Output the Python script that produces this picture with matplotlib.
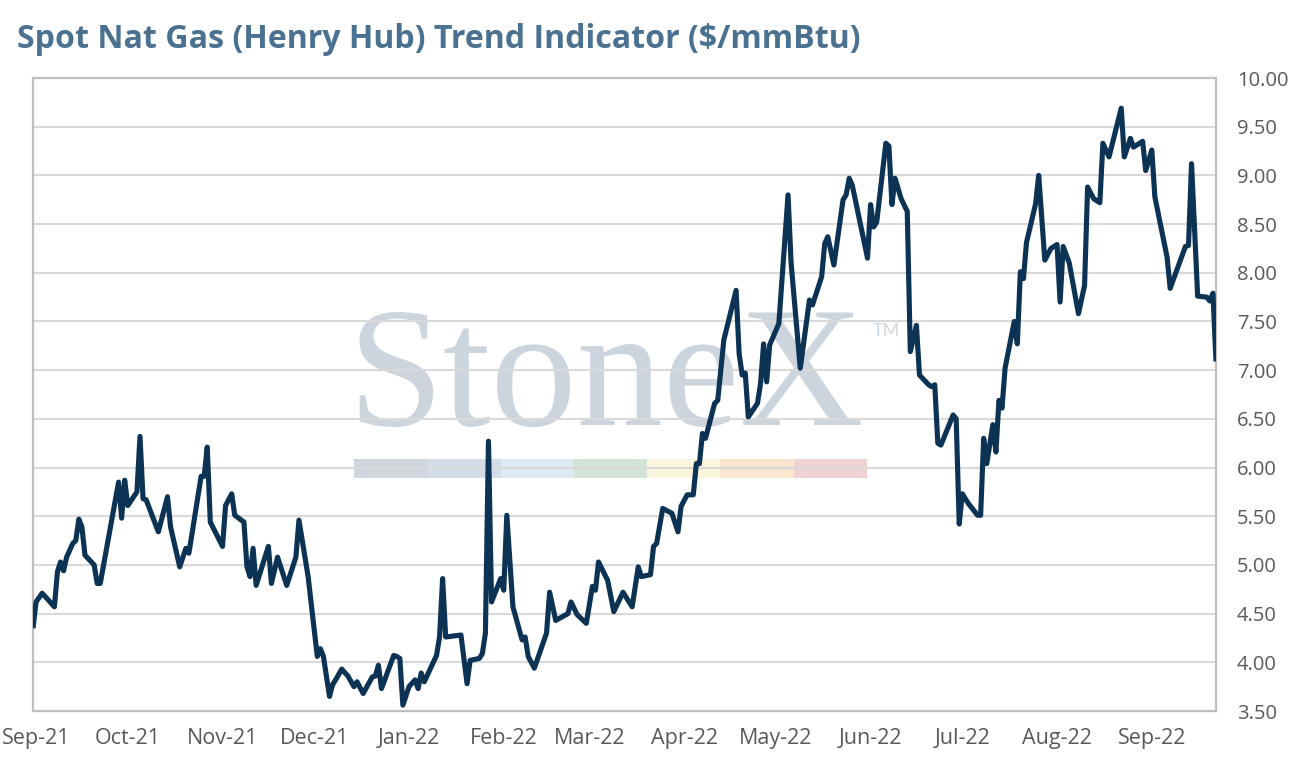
import matplotlib
matplotlib.use("Agg")
import matplotlib.pyplot as plt
import matplotlib.dates as mdates
from matplotlib.patches import Rectangle
import pandas as pd

dates = [
    "2021-08-31", "2021-09-01", "2021-09-03", "2021-09-07", "2021-09-08", "2021-09-09", "2021-09-10",
    "2021-09-11", "2021-09-13", "2021-09-14", "2021-09-15", "2021-09-16", "2021-09-17", "2021-09-20",
    "2021-09-21", "2021-09-22", "2021-09-28", "2021-09-29", "2021-09-30", "2021-10-01", "2021-10-04",
    "2021-10-05", "2021-10-06", "2021-10-07", "2021-10-11", "2021-10-14", "2021-10-15", "2021-10-18",
    "2021-10-20", "2021-10-21", "2021-10-25", "2021-10-26", "2021-10-27", "2021-10-28", "2021-11-01",
    "2021-11-02", "2021-11-04", "2021-11-05", "2021-11-08", "2021-11-09", "2021-11-10", "2021-11-11",
    "2021-11-12", "2021-11-16", "2021-11-17", "2021-11-19", "2021-11-22", "2021-11-25", "2021-11-26",
    "2021-11-29", "2021-12-02", "2021-12-03", "2021-12-04", "2021-12-06", "2021-12-07", "2021-12-08",
    "2021-12-10", "2021-12-12", "2021-12-14", "2021-12-15", "2021-12-17", "2021-12-20", "2021-12-21",
    "2021-12-22", "2021-12-23", "2021-12-27", "2021-12-28", "2021-12-29", "2021-12-30", "2022-01-01",
    "2022-01-03", "2022-01-04", "2022-01-05", "2022-01-06", "2022-01-10", "2022-01-11", "2022-01-12",
    "2022-01-13", "2022-01-18", "2022-01-20", "2022-01-21", "2022-01-24", "2022-01-25", "2022-01-26",
    "2022-01-27", "2022-01-28", "2022-01-30", "2022-01-31", "2022-02-01", "2022-02-02", "2022-02-04",
    "2022-02-07", "2022-02-08", "2022-02-09", "2022-02-11", "2022-02-15", "2022-02-16", "2022-02-18",
    "2022-02-22", "2022-02-23", "2022-02-25", "2022-02-28", "2022-03-02", "2022-03-03", "2022-03-04",
    "2022-03-07", "2022-03-09", "2022-03-12", "2022-03-15", "2022-03-17", "2022-03-18", "2022-03-21",
    "2022-03-22", "2022-03-23", "2022-03-25", "2022-03-28", "2022-03-30", "2022-03-31", "2022-04-02",
    "2022-04-04", "2022-04-05", "2022-04-06", "2022-04-07", "2022-04-08", "2022-04-11", "2022-04-12",
    "2022-04-14", "2022-04-18", "2022-04-19", "2022-04-20", "2022-04-21", "2022-04-22", "2022-04-25",
    "2022-04-26", "2022-04-27", "2022-04-28", "2022-04-29", "2022-05-02", "2022-05-05", "2022-05-06",
    "2022-05-09", "2022-05-12", "2022-05-13", "2022-05-16", "2022-05-17", "2022-05-18", "2022-05-20",
    "2022-05-23", "2022-05-24", "2022-05-25", "2022-05-26", "2022-05-31", "2022-06-01", "2022-06-02",
    "2022-06-03", "2022-06-06", "2022-06-07", "2022-06-08", "2022-06-09", "2022-06-11", "2022-06-13",
    "2022-06-14", "2022-06-16", "2022-06-17", "2022-06-20", "2022-06-21", "2022-06-22", "2022-06-23",
    "2022-06-24", "2022-06-28", "2022-06-29", "2022-06-30", "2022-07-01", "2022-07-03", "2022-07-06",
    "2022-07-07", "2022-07-08", "2022-07-09", "2022-07-11", "2022-07-12", "2022-07-13", "2022-07-14",
    "2022-07-15", "2022-07-18", "2022-07-19", "2022-07-20", "2022-07-21", "2022-07-22", "2022-07-25",
    "2022-07-26", "2022-07-28", "2022-07-30", "2022-08-01", "2022-08-02", "2022-08-03", "2022-08-05",
    "2022-08-08", "2022-08-10", "2022-08-11", "2022-08-13", "2022-08-15", "2022-08-16", "2022-08-18",
    "2022-08-22", "2022-08-23", "2022-08-25", "2022-08-26", "2022-08-29", "2022-08-30", "2022-09-01",
    "2022-09-02", "2022-09-06", "2022-09-07", "2022-09-12", "2022-09-13", "2022-09-14", "2022-09-16",
    "2022-09-19", "2022-09-20", "2022-09-21", "2022-09-22",
]

prices = [
    4.35, 4.62, 4.71, 4.57, 4.93, 5.03, 4.94,
    5.08, 5.22, 5.25, 5.47, 5.39, 5.10, 5.00,
    4.81, 4.81, 5.85, 5.48, 5.87, 5.61, 5.75,
    6.32, 5.68, 5.67, 5.34, 5.70, 5.39, 4.98,
    5.17, 5.12, 5.91, 5.91, 6.21, 5.44, 5.19,
    5.61, 5.73, 5.51, 5.44, 4.98, 4.88, 5.17,
    4.79, 5.19, 4.81, 5.08, 4.79, 5.08, 5.46,
    4.88, 4.06, 4.14, 4.06, 3.65, 3.77, 3.82,
    3.93, 3.86, 3.75, 3.80, 3.68, 3.85, 3.86,
    3.97, 3.73, 4.07, 4.06, 4.04, 3.56, 3.75,
    3.82, 3.73, 3.89, 3.80, 4.07, 4.26, 4.86,
    4.26, 4.28, 3.78, 4.02, 4.04, 4.09, 4.30,
    6.27, 4.62, 4.78, 4.86, 4.74, 5.51, 4.57,
    4.23, 4.26, 4.06, 3.94, 4.30, 4.72, 4.43,
    4.50, 4.62, 4.49, 4.40, 4.78, 4.74, 5.03,
    4.84, 4.52, 4.72, 4.57, 4.98, 4.88, 4.90,
    5.19, 5.22, 5.58, 5.53, 5.34, 5.60, 5.72,
    5.72, 6.04, 6.04, 6.35, 6.30, 6.66, 6.69,
    7.31, 7.82, 7.17, 6.95, 6.97, 6.52, 6.66,
    6.86, 7.27, 6.88, 7.26, 7.48, 8.80, 8.10,
    7.02, 7.72, 7.67, 7.96, 8.30, 8.37, 8.08,
    8.75, 8.80, 8.97, 8.90, 8.15, 8.70, 8.47,
    8.52, 9.33, 9.30, 8.70, 8.97, 8.76, 8.63,
    7.19, 7.46, 6.95, 6.85, 6.83, 6.85, 6.25,
    6.23, 6.54, 6.50, 5.42, 5.73, 5.63, 5.51,
    5.51, 6.30, 6.04, 6.44, 6.16, 6.69, 6.61,
    7.02, 7.50, 7.27, 8.01, 7.94, 8.31, 8.71,
    9.00, 8.13, 8.25, 8.29, 7.70, 8.27, 8.10,
    7.58, 7.87, 8.88, 8.76, 8.72, 9.33, 9.19,
    9.69, 9.19, 9.38, 9.29, 9.35, 9.05, 9.26,
    8.78, 8.16, 7.84, 8.27, 8.28, 9.12, 7.76,
    7.75, 7.71, 7.79, 7.09,
]

y_ticks = [3.5, 4.0, 4.5, 5.0, 5.5, 6.0, 6.5, 7.0, 7.5, 8.0, 8.5, 9.0, 9.5, 10.0]
title_text = "Spot Nat Gas (Henry Hub) Trend Indicator ($/mmBtu)"
band_colors = ["#cfd6de", "#d3dde8", "#dde9f3", "#d4e3d8", "#faf5dc", "#fae6cf", "#f1d2d3"]

x = pd.to_datetime(dates)

plt.rcParams["font.family"] = ["Open Sans", "Lato", "DejaVu Sans"]

fig = plt.figure(figsize=(12.94, 7.72), dpi=100)
ax = fig.add_axes([33 / 1294, 1 - 711 / 772, (1216 - 33) / 1294, (711 - 78) / 772])

# watermark
ax.text(0.266, 0.452, "StoneX", transform=ax.transAxes, fontsize=124,
        family="Liberation Serif", color="#ccd4dd", ha="left", va="baseline", zorder=0.1)
ax.text(0.710, 0.592, "TM", transform=ax.transAxes, fontsize=13,
        family="Lato", color="#cdd5de", ha="left", va="baseline", zorder=0.1)
seg_w = (867 - 354) / 1183 / len(band_colors)
x0 = (354 - 33) / 1183
for i, c in enumerate(band_colors):
    ax.add_patch(Rectangle((x0 + i * seg_w, (711 - 478) / 633), seg_w, 19 / 633,
                           transform=ax.transAxes, facecolor=c, edgecolor="none", zorder=0.1))

ax.plot(x, prices, color="#0c3354", lw=3.7, solid_joinstyle="round", solid_capstyle="butt", zorder=3)

ax.set_xlim(x[0], x[-1])
ax.set_ylim(3.5, 10.0)
ax.yaxis.tick_right()
ax.set_yticks(y_ticks)
ax.yaxis.set_major_formatter(matplotlib.ticker.FormatStrFormatter("%.2f"))
ax.xaxis.set_major_locator(mdates.MonthLocator())
ax.xaxis.set_major_formatter(mdates.DateFormatter("%b-%y"))
ax.set_axisbelow(True)
ax.grid(axis="y", color="#d9d9d9", lw=1.5)
ax.tick_params(axis="both", length=0, labelcolor="#595959")
ax.tick_params(axis="y", pad=15, labelsize=14.5)
ax.tick_params(axis="x", pad=12, labelsize=15.5)
for s in ax.spines.values():
    s.set_color("#bfbfbf")
    s.set_linewidth(1.6)

fig.text(17 / 1294, 1 - 40 / 772, title_text, fontsize=23.1, fontweight="bold",
         color="#4b7190", ha="left", va="center")

fig.savefig("out.png", dpi=100)
